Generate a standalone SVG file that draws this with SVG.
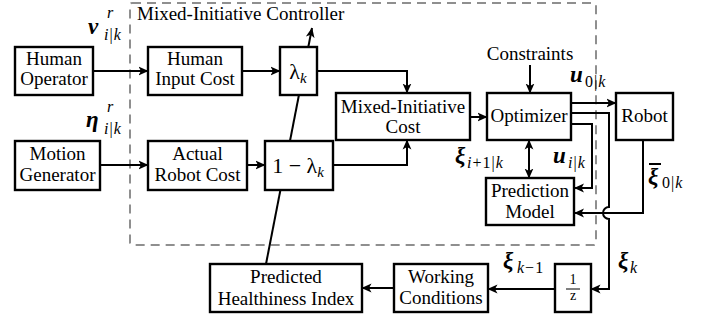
<svg xmlns="http://www.w3.org/2000/svg" width="709" height="322" viewBox="0 0 709 322" font-family="Liberation Serif">
<defs>
<marker id="ah" viewBox="0 0 10 10" refX="9.5" refY="5" markerWidth="10" markerHeight="10" markerUnits="userSpaceOnUse" orient="auto-start-reverse">
<path d="M0,0.6 L10,5 L0,9.4 L2.5,5 z" fill="#000"/>
</marker>
</defs>
<style>
.box{fill:#fff;stroke:#000;stroke-width:2.4}
.t{font-size:19px;fill:#000;text-anchor:middle}
.c{fill:none;stroke:#000;stroke-width:2}
.a{marker-end:url(#ah)}
.m{font-weight:bold;font-style:italic;font-size:23px;fill:#000}
.s{font-style:italic;font-size:16px;fill:#000;letter-spacing:1px}
.n{font-style:normal}
</style>
<rect id="controller-frame" x="130" y="3" width="466" height="242" rx="2" fill="none" stroke="#8f8f8f" stroke-width="2" stroke-dasharray="9,6"/>
<text x="137" y="20" class="t" font-family="Liberation Serif" style="text-anchor:start">Mixed-Initiative Controller</text>

<g id="connectors">
<path class="c a" d="M93,71 H148"/>
<path class="c a" d="M100,165 H148"/>
<path class="c a" d="M242,71 H280"/>
<path class="c a" d="M247,165 H265"/>
<path class="c a" d="M266,264 L312,28"/>
<path class="c a" d="M317,71 H407 V93"/>
<path class="c a" d="M333,165 H407 V140"/>
<path class="c a" d="M470,117 H487"/>
<path class="c a" d="M530,65 V93"/>
<path class="c a" d="M571,103 H616"/>
<path class="c a" d="M571,113 H609 V207 A6,6 0 0 0 609,219 V289 H591"/>
<path class="c a" d="M571,124 H592 V188 H574.5"/>
<path class="c a" d="M529,140 V178" marker-start="url(#ah)"/>
<path class="c a" d="M643,140 V213 H574.5"/>
<path class="c a" d="M555,289 H488"/>
<path class="c a" d="M394,288 H362"/>
</g>

<g id="human-operator" font-family="Liberation Serif"><rect class="box" x="15" y="47" width="78" height="48"/><text class="t" font-family="Liberation Serif" x="54" y="65">Human</text><text class="t" font-family="Liberation Serif" x="54" y="85">Operator</text></g>
<g id="motion-generator" font-family="Liberation Serif"><rect class="box" x="15" y="141" width="85" height="49"/><text class="t" font-family="Liberation Serif" x="57.5" y="160">Motion</text><text class="t" font-family="Liberation Serif" x="57.5" y="181">Generator</text></g>
<g id="human-input-cost" font-family="Liberation Serif"><rect class="box" x="148" y="47" width="94" height="48"/><text class="t" font-family="Liberation Serif" x="195" y="65">Human</text><text class="t" font-family="Liberation Serif" x="195" y="85">Input Cost</text></g>
<g id="actual-robot-cost" font-family="Liberation Serif"><rect class="box" x="148" y="141" width="99" height="49"/><text class="t" font-family="Liberation Serif" x="197.5" y="160">Actual</text><text class="t" font-family="Liberation Serif" x="197.5" y="181">Robot Cost</text></g>
<g id="lambda" font-family="Liberation Serif"><rect class="box" x="280" y="47" width="37" height="48"/><text class="t" font-family="Liberation Serif" x="298" y="79" style="font-size:22px">λ<tspan font-style="italic" font-size="15" dy="4">k</tspan></text></g>
<g id="one-minus-lambda" font-family="Liberation Serif"><rect class="box" x="265" y="141" width="68" height="49"/><text class="t" font-family="Liberation Serif" x="298" y="173" style="font-size:22px">1 − λ<tspan font-style="italic" font-size="15" dy="4">k</tspan></text></g>
<g id="mixed-initiative-cost" font-family="Liberation Serif"><rect class="box" x="336" y="93" width="134" height="47"/><text class="t" font-family="Liberation Serif" x="403" y="113">Mixed-Initiative</text><text class="t" font-family="Liberation Serif" x="403" y="133">Cost</text></g>
<g id="optimizer" font-family="Liberation Serif"><rect class="box" x="487" y="93" width="84" height="47"/><text class="t" font-family="Liberation Serif" x="529" y="122">Optimizer</text></g>
<g id="constraints" font-family="Liberation Serif"><text class="t" font-family="Liberation Serif" x="530" y="60">Constraints</text></g>
<g id="robot" font-family="Liberation Serif"><rect class="box" x="616" y="93" width="57" height="47"/><text class="t" font-family="Liberation Serif" x="644.5" y="122">Robot</text></g>
<g id="prediction-model" font-family="Liberation Serif"><rect class="box" x="486" y="178" width="88" height="47"/><text class="t" font-family="Liberation Serif" x="530" y="197">Prediction</text><text class="t" font-family="Liberation Serif" x="530" y="218">Model</text></g>
<g id="delay" font-family="Liberation Serif"><rect class="box" x="555" y="264" width="36" height="48"/><text class="t" font-family="Liberation Serif" x="573" y="284" style="font-size:14px">1</text><line x1="566" y1="289" x2="580" y2="289" stroke="#000" stroke-width="1"/><text class="t" font-family="Liberation Serif" x="573" y="300" style="font-size:14px">z</text></g>
<g id="working-conditions" font-family="Liberation Serif"><rect class="box" x="394" y="264" width="94" height="48"/><text class="t" font-family="Liberation Serif" x="441" y="283">Working</text><text class="t" font-family="Liberation Serif" x="441" y="304">Conditions</text></g>
<g id="predicted-healthiness-index" font-family="Liberation Serif"><rect class="box" x="210" y="264" width="152" height="48"/><text class="t" font-family="Liberation Serif" x="286" y="283">Predicted</text><text class="t" font-family="Liberation Serif" x="286" y="305">Healthiness Index</text></g>

<g id="labels" font-family="Liberation Serif">
<text class="m" font-family="Liberation Serif" x="88" y="34">ν</text><text class="s" font-family="Liberation Serif" x="107" y="18">r</text><text class="s" font-family="Liberation Serif" x="104" y="40">i<tspan class="n">|</tspan>k</text>
<text class="m" font-family="Liberation Serif" x="86" y="127">η</text><text class="s" font-family="Liberation Serif" x="107" y="112">r</text><text class="s" font-family="Liberation Serif" x="104" y="134">i<tspan class="n">|</tspan>k</text>
<text class="m" font-family="Liberation Serif" x="570" y="82">u</text><text class="s" font-family="Liberation Serif" x="585" y="87"><tspan class="n">0|</tspan>k</text>
<text class="m" font-family="Liberation Serif" x="455" y="163">ξ</text><text class="s" font-family="Liberation Serif" x="467" y="168">i<tspan class="n">+1|</tspan>k</text>
<text class="m" font-family="Liberation Serif" x="553" y="163">u</text><text class="s" font-family="Liberation Serif" x="568" y="168">i<tspan class="n">|</tspan>k</text>
<line x1="649" y1="164" x2="661" y2="164" stroke="#000" stroke-width="2"/>
<text class="m" font-family="Liberation Serif" x="648" y="184">ξ</text><text class="s" font-family="Liberation Serif" x="662" y="188"><tspan class="n">0|</tspan>k</text>
<text class="m" font-family="Liberation Serif" x="618" y="268">ξ</text><text class="s" font-family="Liberation Serif" x="630" y="273">k</text>
<text class="m" font-family="Liberation Serif" x="503" y="268">ξ</text><text class="s" font-family="Liberation Serif" x="517" y="273">k<tspan class="n">−1</tspan></text>
</g>
</svg>
